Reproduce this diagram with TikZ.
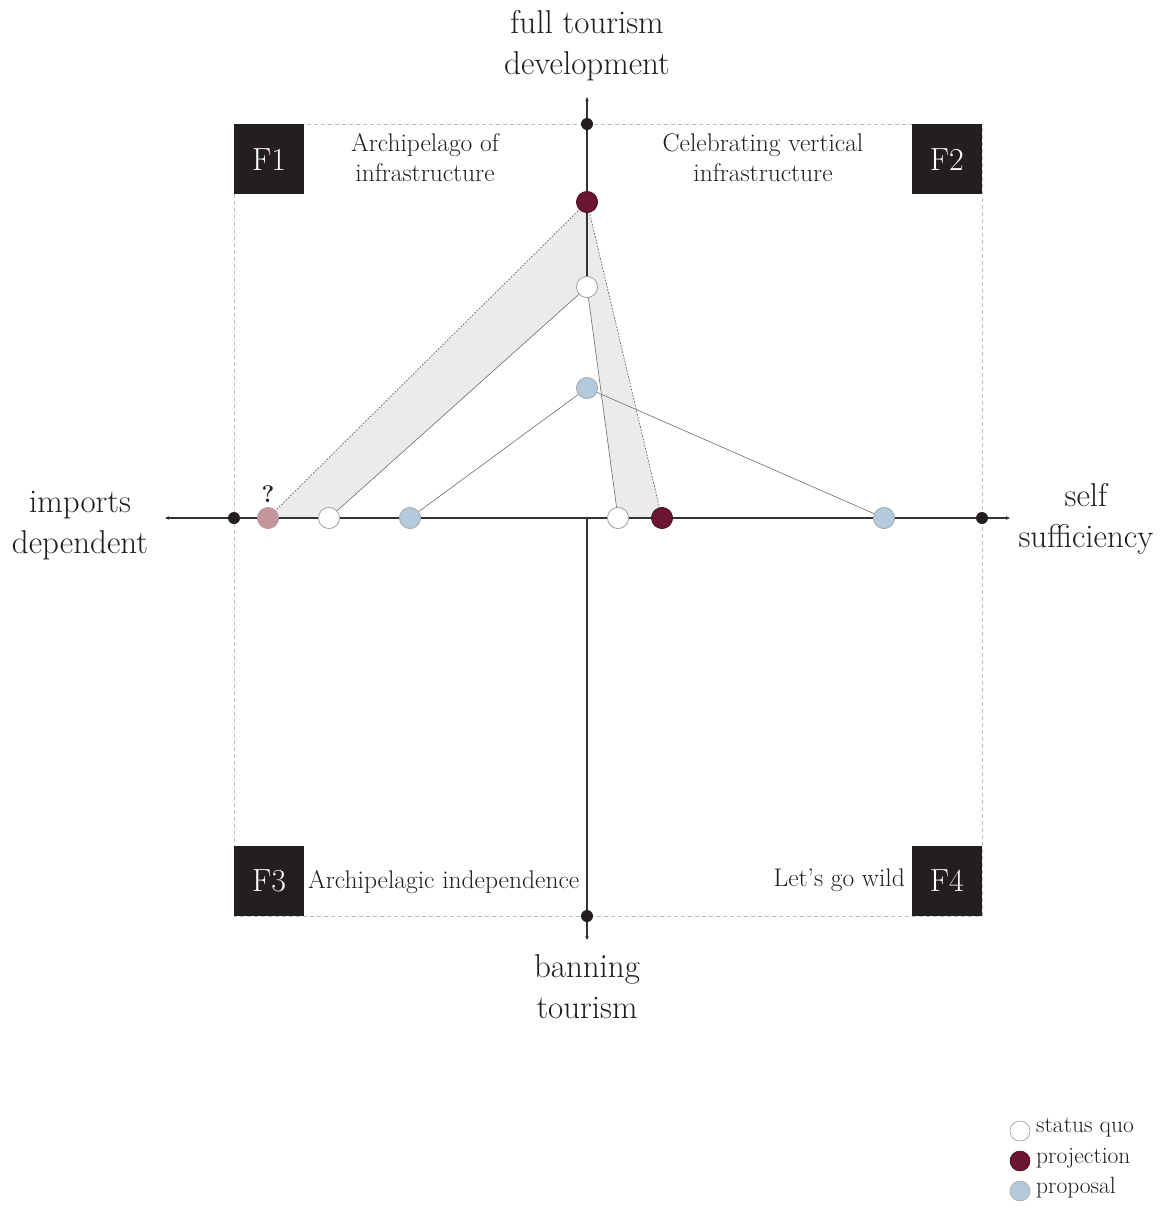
\documentclass[tikz,border=0pt]{standalone}
\usetikzlibrary{arrows.meta}
\definecolor{projc}{HTML}{6B1535}
\definecolor{propc}{HTML}{B2CADB}
\definecolor{fadec}{HTML}{C4959C}
\definecolor{shadec}{HTML}{EBEBEB}
\definecolor{boxc}{HTML}{231F20}
\definecolor{txtc}{HTML}{1E1E1E}
\begin{document}
\begin{tikzpicture}[x=1pt,y=-1pt,
  mark dot/.style={circle,inner sep=0pt,minimum size=21pt,line width=0.6pt},
  sq/.style={mark dot,fill=white,draw=gray!80},
  pj/.style={mark dot,fill=projc,draw=projc!70!black},
  pp/.style={mark dot,fill=propc,draw=gray!70},
  fd/.style={mark dot,fill=fadec,draw=fadec},
  axdot/.style={circle,fill=boxc,inner sep=0pt,minimum size=12pt},
  axisline/.style={line width=1.1pt,draw=black!80},
  tip/.style={-{Stealth[length=4pt,width=3.5pt]}},
  link/.style={line width=0.6pt,draw=gray!85!black},
  dots/.style={line width=0.7pt,draw=gray!75!black,dash pattern=on 1.6pt off 1.6pt},
  frame/.style={draw=gray!50,line width=0.6pt,dash pattern=on 4pt off 3pt},
  fbox/.style={fill=boxc,text=white,minimum width=70pt,minimum height=70pt,inner sep=0pt,font=\fontsize{32}{34}\selectfont},
  axlabel/.style={align=center,font=\fontsize{33}{41}\selectfont,text=txtc},
  qlabel/.style={align=center,font=\fontsize{25.5}{30}\selectfont,text=txtc},
  leglabel/.style={anchor=west,font=\fontsize{23.5}{26}\selectfont,text=txtc,inner sep=0pt}
]
\useasboundingbox (0,0) rectangle (1165,1208);

% frame
\draw[frame] (234,124) rectangle (982,916);

% coordinates
\coordinate (top) at (587,97);
\coordinate (bot) at (587,940);
\coordinate (left) at (165,518);
\coordinate (right) at (1010,518);
\coordinate (origin) at (587,518);

% shaded bands
\fill[shadec] (587,202) -- (268,518) -- (329,518) -- (587,287) -- cycle;
\fill[shadec] (587,202) -- (662,518) -- (618,518) -- (587,287) -- cycle;

% axes
\draw[axisline,tip] (587,287) -- (top);
\draw[axisline,tip] (origin) -- (bot);
\draw[axisline,tip] (234,518) -- (left);
\draw[axisline,tip] (234,518) -- (right);

% points
\node[axdot] (ntop) at (587,124) {};
\node[axdot] (nbot) at (587,916) {};
\node[axdot] (nleft) at (234,518) {};
\node[axdot] (nright) at (982,518) {};

\node[pj] (pv) at (587,202) {};
\node[sq] (sv) at (587,287) {};
\node[pp] (bv) at (587,388) {};

\node[fd] (ph) at (268,518) {};
\node[sq] (sl) at (329,518) {};
\node[pp] (bl) at (410,518) {};
\node[sq] (sr) at (618,518) {};
\node[pj] (pr) at (662,518) {};
\node[pp] (br) at (884,518) {};

% connectors
\draw[dots] (pv.center) -- (ph.center);
\draw[dots] (pv.center) -- (pr.center);
\draw[link] (sv) -- (sl);
\draw[link] (sv) -- (sr);
\draw[link] (bv) -- (bl);
\draw[link] (bv) -- (br);

% redraw circles on top
\node[pj] at (587,202) {};
\node[sq] at (587,287) {};
\node[pp] at (587,388) {};
\node[fd] at (268,518) {};
\node[sq] at (329,518) {};
\node[pp] at (410,518) {};
\node[sq] at (618,518) {};
\node[pj] at (662,518) {};
\node[pp] at (884,518) {};

\node[font=\fontsize{24}{26}\selectfont\bfseries,text=txtc] (q) at (268,494) {?};

% stray speck
\fill[black!85] (604,956) circle (1.2pt);

% axis labels
\node[axlabel] (lt) at (587,46) {full tourism\\development};
\node[axlabel] (lb) at (587,987) {banning\\tourism};
\node[axlabel] (ll) at (80,526) {imports\\dependent};
\node[axlabel] (lr) at (1086,519) {self\\sufficiency};

% F boxes
\node[fbox,anchor=north west] (f1) at (234,124) {F1};
\node[fbox,anchor=north east] (f2) at (982,124) {F2};
\node[fbox,anchor=south west] (f3) at (234,916) {F3};
\node[fbox,anchor=south east] (f4) at (982,916) {F4};

% quadrant labels
\node[qlabel] (q1) at (425,158) {Archipelago of\\infrastructure};
\node[qlabel] (q2) at (763,158) {Celebrating vertical\\infrastructure};
\node[qlabel,anchor=west,inner sep=0pt] (q3) at (308,882) {Archipelagic independence};
\node[qlabel,anchor=east,inner sep=0pt] (q4) at (905,880) {Let's go wild};

% legend
\node[sq,minimum size=20pt] (l1) at (1020,1131) {};
\node[pj,minimum size=20pt] (l2) at (1020,1161) {};
\node[pp,minimum size=20pt] (l3) at (1020,1191) {};
\node[leglabel] at (1036,1128) {status quo};
\node[leglabel] at (1036,1158) {projection};
\node[leglabel] at (1036,1188) {proposal};
\end{tikzpicture}
\end{document}
